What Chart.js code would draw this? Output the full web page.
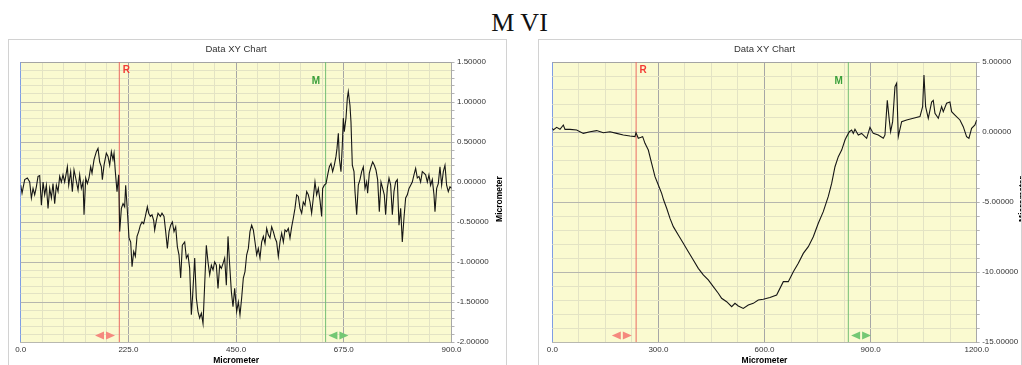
<!DOCTYPE html>
<html>
<head>
<meta charset="utf-8">
<script src="https://cdn.jsdelivr.net/npm/chart.js@4.4.0/dist/chart.umd.min.js"></script>
<style>
  body { margin: 0; background: #fff; width: 1022px; height: 365px; overflow: hidden; position: relative; }
  #mainTitle { position: absolute; left: 0; top: 8px; width: 1039px; text-align: center;
    font-family: 'Liberation Serif', 'DejaVu Serif', serif; font-size: 26px; color: #111; }
  .frame { position: absolute; border: 1px solid #d2d2d2; box-sizing: border-box; }
  .frame canvas { position: absolute; left: 0; top: 0; }
</style>
</head>
<body>
<div id="mainTitle">M VI</div>
<div class="frame" style="left:8px; top:39px; width:499px; height:340px;">
  <canvas id="chartLeft" width="497" height="325" style="width:497px;height:325px;"></canvas>
</div>
<div class="frame" style="left:538px; top:39px; width:484px; height:340px;">
  <canvas id="chartRight" width="482" height="325" style="width:482px;height:325px;"></canvas>
</div>
<script>
// left panel: profile over 0-900 micrometer
const leftX = [
  0, 2.8, 8.4, 13.9, 18.8, 22.3, 25.8, 29.2, 32.7, 36.2,
  39.7, 43.2, 46.7, 50.1, 53.6, 57.1, 60.6, 64.1, 67.5, 71.0,
  74.5, 78.0, 81.5, 84.9, 88.4, 91.9, 97.5, 100.3, 104.4, 107.9,
  111.4, 114.9, 119.8, 123.2, 126.7, 130.2, 132.3, 135.8, 139.3, 142.7,
  146.2, 149.0, 153.2, 158.1, 161.5, 165.0, 168.5, 170.6, 174.1, 178.9,
  182.4, 185.9, 189.4, 192.8, 195.0, 197.7, 201.2, 204.7, 206.8, 210.3,
  213.8, 217.2, 219.3, 222.1, 226.3, 229.8, 232.6, 236.1, 239.5, 243.0,
  246.5, 250.0, 253.5, 256.9, 260.4, 264.6, 267.4, 270.9, 274.3, 277.8,
  279.9, 283.4, 286.9, 291.8, 295.2, 299.4, 302.9, 306.4, 309.9, 313.3,
  316.8, 320.3, 323.8, 327.3, 330.7, 334.2, 337.7, 342.6, 346.1, 349.5,
  353.0, 356.5, 359.3, 363.5, 366.9, 370.4, 373.9, 377.4, 380.9, 384.3,
  387.8, 391.3, 394.8, 398.3, 401.8, 405.2, 408.7, 412.2, 415.7, 419.2,
  422.6, 426.1, 429.6, 433.1, 436.6, 440.1, 443.5, 447.0, 451.2, 454.7,
  458.1, 461.6, 465.1, 468.6, 472.1, 475.6, 479.0, 482.5, 486.0, 489.5,
  493.0, 496.4, 499.9, 503.4, 506.9, 510.4, 513.9, 517.3, 520.8, 524.3,
  527.8, 531.3, 534.7, 538.2, 541.7, 545.2, 548.7, 552.1, 555.6, 559.1,
  562.6, 566.1, 569.6, 573.0, 576.5, 580.0, 583.5, 587.0, 590.4, 593.9,
  597.4, 600.9, 604.4, 607.8, 611.3, 614.8, 618.3, 621.8, 625.3, 628.7,
  630.8, 634.3, 637.8, 641.3, 644.8, 648.2, 651.7, 655.2, 658.7, 660.8,
  663.6, 665.6, 669.1, 671.9, 674.0, 676.1, 679.6, 682.4, 684.4, 687.9,
  690.0, 692.8, 696.3, 698.4, 701.9, 705.3, 708.8, 712.3, 715.8, 719.3,
  722.7, 724.8, 728.3, 731.8, 735.3, 738.8, 742.2, 745.7, 749.2, 752.7,
  756.2, 759.6, 762.4, 765.9, 769.4, 772.9, 776.4, 779.8, 783.3, 786.8,
  790.3, 793.8, 797.2, 800.7, 804.2, 807.7, 811.2, 814.7, 818.1, 821.6,
  825.1, 828.6, 832.1, 835.5, 839.0, 842.5, 846.0, 849.5, 852.9, 856.4,
  859.9, 863.4, 865.5, 869.0, 872.4, 875.9, 879.4, 882.9, 886.4, 889.8,
  893.3, 896.8, 900
];
const leftY = [
  -0.04, -0.14, 0.03, 0.05, 0.00, -0.20, -0.08, -0.16, -0.06, 0.07,
  0.08, -0.29, 0.00, -0.16, -0.04, -0.33, -0.08, -0.20, -0.02, -0.27,
  -0.04, -0.12, 0.07, 0.00, 0.09, 0.00, 0.19, -0.04, 0.13, -0.12,
  0.15, 0.05, -0.10, 0.09, -0.08, 0.00, -0.41, 0.05, -0.02, 0.05,
  0.19, 0.11, 0.28, 0.38, 0.42, 0.25, 0.19, 0.03, 0.21, 0.36,
  0.32, 0.21, 0.38, 0.28, 0.36, 0.13, -0.12, 0.09, -0.62, -0.33,
  -0.27, -0.31, -0.04, -0.29, -0.70, -0.75, -1.06, -0.87, -0.93, -0.68,
  -0.62, -0.54, -0.50, -0.52, -0.43, -0.31, -0.39, -0.43, -0.41, -0.48,
  -0.60, -0.48, -0.39, -0.43, -0.39, -0.43, -0.62, -0.83, -0.62, -0.54,
  -0.50, -0.62, -0.56, -0.81, -0.91, -1.20, -0.79, -0.75, -0.95, -0.91,
  -1.08, -1.66, -1.41, -0.95, -1.45, -1.62, -1.70, -1.64, -1.77, -1.29,
  -0.79, -1.00, -1.16, -1.04, -1.10, -1.00, -1.04, -1.33, -1.04, -1.08,
  -1.02, -0.95, -1.29, -0.68, -1.04, -1.37, -1.56, -1.33, -1.62, -1.50,
  -1.66, -1.45, -1.20, -1.12, -0.91, -0.83, -0.62, -0.54, -0.60, -0.75,
  -0.91, -0.83, -0.95, -0.75, -0.68, -0.77, -0.58, -0.66, -0.70, -0.56,
  -0.62, -0.70, -0.75, -0.93, -0.75, -0.64, -0.75, -0.60, -0.62, -0.58,
  -0.70, -0.56, -0.45, -0.33, -0.16, -0.18, -0.33, -0.39, -0.25, -0.29,
  -0.12, -0.16, -0.25, -0.39, -0.20, 0.00, -0.16, -0.08, -0.23, -0.43,
  -0.08, -0.04, -0.02, 0.09, 0.19, 0.23, 0.13, 0.21, 0.32, 0.42,
  0.61, 0.30, 0.13, 0.46, 0.80, 0.63, 0.80, 1.05, 1.13, 0.96,
  0.75, 0.21, 0.13, -0.12, -0.41, -0.04, 0.03, 0.13, 0.19, -0.08,
  0.00, -0.14, 0.11, 0.19, 0.25, 0.21, 0.15, 0.03, -0.37, 0.00,
  -0.08, -0.16, -0.41, -0.08, 0.05, -0.04, -0.41, -0.12, 0.00, 0.03,
  -0.54, -0.33, -0.75, -0.45, -0.20, -0.16, -0.08, -0.04, 0.00, 0.09,
  0.17, 0.05, 0.07, 0.00, 0.13, 0.11, 0.09, 0.00, 0.09, -0.04,
  0.03, -0.16, -0.37, -0.08, -0.02, 0.19, -0.04, 0.13, 0.21, -0.04,
  -0.12, -0.06, -0.08
];
const leftXLabels = [0, 225, 450, 675, 900];
const leftYLabels = [-2, -1.5, -1, -0.5, 0, 0.5, 1, 1.5];
const leftMarkers = [206, 637]; // R and M cursors

// right panel: profile over 0-1200 micrometer
const rightX = [
  0, 2.9, 12.3, 21.8, 31.2, 35.9, 50, 68.9, 87.7, 106.6,
  125.4, 144.3, 163.1, 182, 200.8, 219.7, 233.8, 236.6, 243.2, 250.8,
  255.5, 262.1, 271.5, 280.9, 290.4, 299.8, 309.2, 314.8, 323.4, 332.8,
  342.2, 356.3, 370.4, 384.6, 398.7, 412.8, 426.9, 441, 455.2, 469.3,
  478.7, 493, 507.2, 516.5, 525.9, 540, 554.2, 568.3, 582.4, 596.6,
  615.4, 634.3, 653.2, 667.3, 681.5, 695.6, 709.7, 723.9, 738, 752.1,
  766.2, 780.4, 789.9, 799.3, 808.7, 818.2, 827.6, 832.3, 839.8, 846.4,
  851.1, 855.8, 865.2, 874.6, 888.8, 898.2, 907.6, 921.7, 935.9, 940.6,
  947.2, 952.9, 956.6, 962.3, 968.9, 973.6, 978.3, 987.8, 1001.9, 1020.7,
  1039.6, 1047.1, 1050.9, 1055.6, 1063.1, 1072.5, 1077.2, 1082, 1091.4, 1100.8,
  1105.5, 1114.9, 1124.3, 1129.1, 1138.5, 1152.6, 1162, 1171.4, 1178, 1185.6,
  1195, 1200
];
const rightY = [
  0.26, 0.14, 0.33, 0.19, 0.5, 0.19, 0.19, 0.14, -0.1, 0.02,
  0.1, -0.05, 0.02, -0.1, -0.21, -0.29, -0.33, -0.05, -0.45, -0.38,
  -0.33, -0.81, -1.29, -2.24, -3.19, -3.79, -4.38, -4.86, -5.45, -6.17,
  -6.76, -7.36, -7.95, -8.55, -9.14, -9.74, -10.21, -10.57, -11.05, -11.52,
  -11.88, -12.12, -12.48, -12.24, -12.43, -12.6, -12.36, -12.24, -12.0, -11.95,
  -11.82, -11.64, -10.69, -10.69, -9.98, -9.38, -8.67, -8.19, -7.48, -6.52,
  -5.69, -4.6, -3.67, -2.48, -1.76, -1.29, -0.57, -0.33, 0.02, 0.14,
  -0.1, 0.19, -0.21, -0.1, -0.45, 0.33, -0.1, -0.21, -0.45, -0.21,
  2.26, 0.83, 0.02, 0.74, 3.24, 3.48, -0.33, 0.74, 0.86, 0.98,
  1.1, 1.81, 4.07, 1.81, 0.98, 2.14, 2.26, 1.33, 0.98, 1.81,
  1.45, 2.05, 2.14, 1.45, 1.21, 0.86, 0.38, -0.33, -0.45, 0.26,
  0.5, 0.86
];
const rightXLabels = [0, 300, 600, 900, 1200];
const rightYLabels = [-15, -10, -5, 0, 5];
const rightMarkers = [237, 837];

const markerNames = ['R', 'M'];
const markerLine = ['#ea6a62', '#74be74'];
const markerText = ['#f23c36', '#3a9f3a'];
const markerArrow = ['#f5897e', '#74c874'];

Chart.defaults.font.family = "'Liberation Sans', Arial, sans-serif";
Chart.defaults.animation = false;

function stepTicks(min, max, step) {
    const out = [];
    const n = Math.round((max - min) / step);
    for (let i = 0; i <= n; i++) out.push(Number((min + i * step).toFixed(6)));
    return out;
}
function isMajor(v, list) {
    return list.some(m => Math.abs(m - v) < 1e-6);
}

// yellow plot area, cursor labels, arrow handles and the rotated axis title
const panelDecor = {
    id: 'panelDecor',
    beforeDraw(chart) {
        const {ctx, chartArea: a} = chart;
        ctx.save();
        ctx.fillStyle = '#fafad0';
        ctx.fillRect(a.left, a.top, a.width, a.height);
        ctx.restore();
    },
    afterDatasetsDraw(chart, args, o) {
        const {ctx, chartArea: a} = chart;
        const xs = chart.scales.x;
        ctx.save();
        ctx.font = "bold 10px 'Liberation Sans', Arial, sans-serif";
        o.markers.forEach((m, i) => {
            const px = xs.getPixelForValue(m);
            ctx.fillStyle = markerText[i];
            if (i === 0) {
                ctx.textAlign = 'left';
                ctx.fillText(markerNames[i], px + 3.5, a.top + 11);
            } else {
                ctx.textAlign = 'right';
                ctx.fillText(markerNames[i], px - 5.5, a.top + 22.3);
            }
            const left = i === 0 ? px - 24.3 : px + 2.8;
            const cy = a.bottom - 6.5;
            ctx.fillStyle = markerArrow[i];
            ctx.beginPath();
            ctx.moveTo(left, cy); ctx.lineTo(left + 9, cy - 4); ctx.lineTo(left + 9, cy + 4); ctx.closePath();
            ctx.moveTo(left + 20, cy); ctx.lineTo(left + 11, cy - 4); ctx.lineTo(left + 11, cy + 4); ctx.closePath();
            ctx.fill();
        });
        ctx.restore();
    },
    afterDraw(chart, args, o) {
        const {ctx, chartArea: a} = chart;
        ctx.save();
        ctx.translate(o.yTitleX, (a.top + a.bottom) / 2 - 3);
        ctx.rotate(-Math.PI / 2);
        ctx.font = "bold 8.5px 'Liberation Sans', Arial, sans-serif";
        ctx.fillStyle = '#000';
        ctx.textAlign = 'center';
        ctx.textBaseline = 'middle';
        ctx.fillText('Micrometer', 0, 0);
        ctx.restore();
    }
};

function buildPanel(id, p) {
    const xMin = p.xLabels[0], xMax = p.xLabels[p.xLabels.length - 1];
    const yMin = p.yLabels[0], yMax = p.yLabels[p.yLabels.length - 1];
    const datasets = [{
        data: p.xs.map((x, i) => ({x: x, y: p.ys[i]})),
        borderColor: '#161616',
        borderWidth: 1.1,
        pointRadius: 0,
        showLine: true,
        order: 0
    }];
    p.markers.forEach((m, i) => datasets.push({
        data: [{x: m, y: yMin}, {x: m, y: yMax}],
        borderColor: markerLine[i],
        borderWidth: 1,
        pointRadius: 0,
        showLine: true,
        order: 1
    }));

    return new Chart(document.getElementById(id), {
        type: 'scatter',
        data: {datasets: datasets},
        plugins: [panelDecor],
        options: {
            responsive: false,
            layout: {padding: {left: p.padLeft, right: 0, top: 0, bottom: 0}},
            scales: {
                x: {
                    type: 'linear', min: xMin, max: xMax,
                    afterBuildTicks: s => { s.ticks = stepTicks(xMin, xMax, p.xStep).map(v => ({value: v})); },
                    afterFit: s => { s.height = 23; },
                    ticks: {
                        autoSkip: false, maxRotation: 0, padding: 3, color: '#333', font: {size: 8},
                        callback: v => isMajor(v, p.xLabels) ? v.toFixed(1) : ''
                    },
                    grid: {
                        drawTicks: false,
                        color: c => {
                            const v = c.tick.value;
                            if (Math.abs(v - xMin) < 1e-6) return '#7f9de4';
                            return isMajor(v, p.xLabels) ? '#a6a6a6' : '#e3e3c4';
                        }
                    },
                    border: {color: '#b8b8b0'},
                    title: {display: true, text: 'Micrometer', color: '#000', padding: 0,
                        font: {size: 8.5, weight: 'bold', lineHeight: '8px'}}
                },
                y: {
                    type: 'linear', position: 'right', min: yMin, max: yMax,
                    afterBuildTicks: s => { s.ticks = stepTicks(yMin, yMax, p.yStep).map(v => ({value: v})); },
                    afterFit: s => { s.width = p.yAxisWidth; },
                    ticks: {
                        autoSkip: false, padding: 2.5, color: '#333', font: {size: 8},
                        callback: v => isMajor(v, p.yLabels) ? v.toFixed(5) : ''
                    },
                    grid: {
                        tickLength: 3,
                        tickColor: '#b4b4b4',
                        color: c => {
                            const v = c.tick.value;
                            if (Math.abs(v - yMax) < 1e-6) return '#a4a4a4';
                            return isMajor(v, p.yLabels) ? '#b6b6ae' : '#e3e3c4';
                        }
                    },
                    border: {color: '#a8a8a8'}
                }
            },
            plugins: {
                legend: {display: false},
                tooltip: {enabled: false},
                title: {
                    display: true, text: 'Data XY Chart', color: '#333', fullSize: false,
                    font: {size: 9.5, weight: 'normal', lineHeight: '12px'},
                    padding: {top: 3, bottom: 7}
                },
                panelDecor: {markers: p.markers, yTitleX: p.yTitleX}
            }
        }
    });
}

buildPanel('chartLeft', {
    xs: leftX, ys: leftY, xLabels: leftXLabels, yLabels: leftYLabels,
    xStep: 45, yStep: 0.1, markers: leftMarkers,
    padLeft: 11.7, yAxisWidth: 54.5, yTitleX: 491
});
buildPanel('chartRight', {
    xs: rightX, ys: rightY, xLabels: rightXLabels, yLabels: rightYLabels,
    xStep: 75, yStep: 1, markers: rightMarkers,
    padLeft: 13.3, yAxisWidth: 44.3, yTitleX: 484
});
</script>
</body>
</html>
